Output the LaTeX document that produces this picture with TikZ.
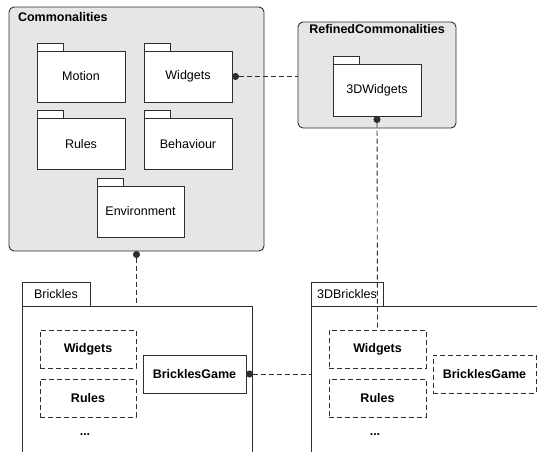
\documentclass[tikz,border=0pt]{standalone}
\usepackage{fontspec}
\setmainfont{Liberation Sans}
\usetikzlibrary{arrows.meta}
\definecolor{pkgfill}{HTML}{E6E6E6}
\definecolor{edge}{HTML}{2E2E2E}

\begin{document}
\begin{tikzpicture}[x=1pt,y=-1pt,
  every node/.style={font=\fontsize{12.5}{15}\selectfont, inner sep=0pt, outer sep=0pt},
  container/.style={draw=edge, line width=0.9pt, fill=pkgfill, rounded corners=5pt},
  pkgbody/.style={draw=edge, line width=0.9pt, fill=white, minimum width=88pt, minimum height=51pt},
  pkgtab/.style={draw=edge, line width=0.9pt, fill=white, minimum width=26pt, minimum height=8pt, anchor=south west},
  title/.style={font=\fontsize{12.5}{15}\selectfont\bfseries},
  openbody/.style={draw=edge, line width=0.9pt, anchor=north west, minimum height=200pt},
  labtab/.style={draw=edge, line width=0.9pt, fill=white, minimum height=24pt, anchor=south west},
  partbox/.style={draw=edge, line width=0.9pt, minimum width=96pt, minimum height=38pt, font=\fontsize{12.5}{15}\selectfont\bfseries},
  dpart/.style={partbox, dash pattern=on 5pt off 3pt},
  link/.style={draw=edge, line width=0.9pt, dash pattern=on 5pt off 3pt, {Circle[length=7pt]}-},
]
\useasboundingbox (0,0) rectangle (537,451);
\clip (0,0) rectangle (537,451);

% Commonalities package
\node[container, minimum width=255pt, minimum height=244pt] (com) at (136.5,129) {};
\node[title, anchor=base west] (comtitle) at (18,21.5) {Commonalities};
\node[pkgbody] (motion) at (81,76.5) {Motion};
\node[pkgtab] (motiontab) at (motion.north west) {};
\node[pkgbody] (widgets) at (188,76.5) {Widgets};
\node[pkgtab] (widgetstab) at (widgets.north west) {};
\node[pkgbody] (rules) at (81,144) {Rules};
\node[pkgtab] (rulestab) at (rules.north west) {};
\node[pkgbody] (behaviour) at (188,144) {Behaviour};
\node[pkgtab] (behaviourtab) at (behaviour.north west) {};
\node[pkgbody, minimum width=87pt] (environment) at (140.5,211.5) {Environment};
\node[pkgtab] (environmenttab) at (environment.north west) {};

% RefinedCommonalities package
\node[container, minimum width=158pt, minimum height=106pt] (ref) at (377,75) {};
\node[title, anchor=base] (reftitle) at (377,33.5) {RefinedCommonalities};
\node[pkgbody, minimum height=52pt] (w3d) at (377,90) {3DWidgets};
\node[pkgtab] (w3dtab) at (w3d.north west) {};

% Brickles package
\node[openbody, minimum width=230pt] (brk) at (22,306) {};
\node[labtab, minimum width=68pt] (brktab) at (brk.north west) {Brickles};
\node[dpart] (brkwidgets) at (88,349) {Widgets};
\node[dpart] (brkrules) at (88,398) {Rules};
\node[font=\fontsize{12.5}{15}\selectfont\bfseries] (brkmore) at (85,435) {...};
\node[partbox, minimum width=103pt] (brkgame) at (194.5,374) {BricklesGame};

% 3DBrickles package
\node[openbody, minimum width=260pt] (b3d) at (311,306) {};
\node[labtab, minimum width=72pt] (b3dtab) at (b3d.north west) {3DBrickles};
\node[dpart, minimum width=97pt] (b3dwidgets) at (377.5,349) {Widgets};
\node[dpart, minimum width=97pt] (b3drules) at (377.5,398) {Rules};
\node[font=\fontsize{12.5}{15}\selectfont\bfseries] (b3dmore) at (375,435) {...};
\node[dpart, minimum width=103pt] (b3dgame) at (484.5,374) {BricklesGame};

% dependencies
\draw[link] (widgets.east) -- (widgets.east -| ref.west);
\draw[link] (w3d.south) -- (b3dwidgets.north);
\draw[link] (com.south) -- (com.south |- brk.north);
\draw[link] (brkgame.east) -- (brkgame.east -| b3d.west);
\end{tikzpicture}
\end{document}
